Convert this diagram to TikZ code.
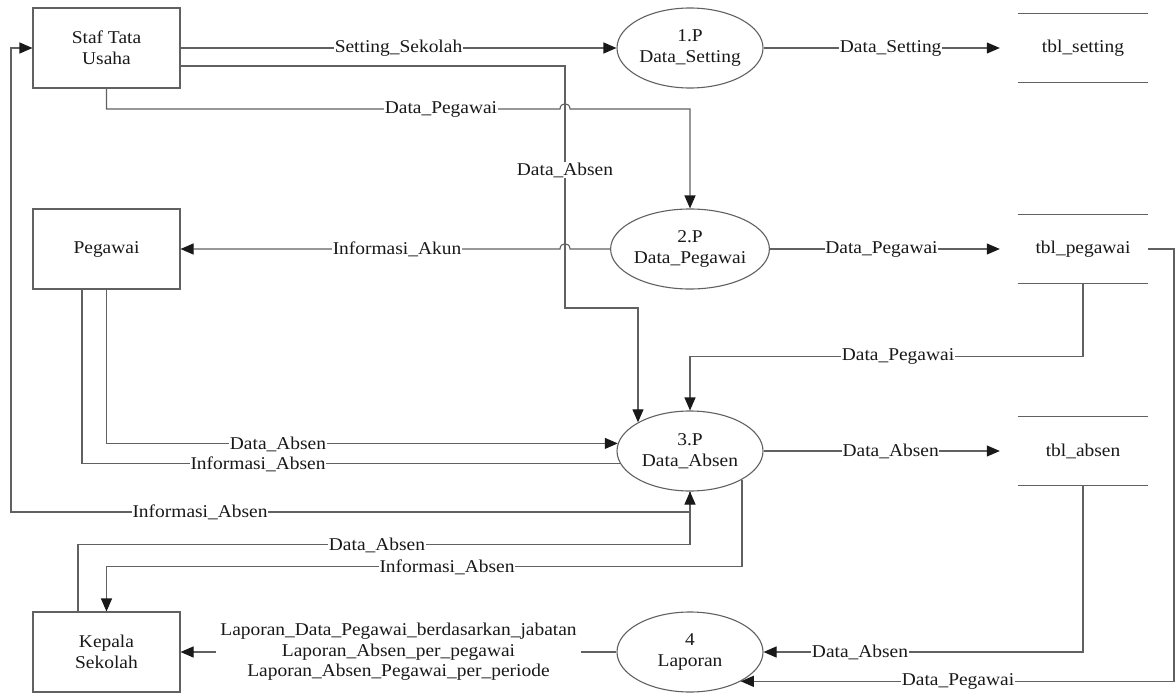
\documentclass[tikz,border=0pt]{standalone}
\usepackage{fontspec}
\setmainfont{Liberation Serif}[FakeStretch=1.08]
\usetikzlibrary{arrows.meta,shapes.geometric,calc}
\begin{document}
\begin{tikzpicture}[x=1pt,y=-1pt,
  every node/.style={font=\fontsize{18}{20.5}\selectfont, text=black!90},
  line/.style={draw=black!62, line width=1.1pt},
  flow/.style={line, -{Triangle[length=13pt,width=11pt,color=black!90]}},
  ent/.style={draw=black!62, line width=1.1pt, minimum width=147pt, minimum height=80pt, align=center, inner sep=0pt},
  proc/.style={ellipse, draw=black!62, line width=1.1pt, minimum width=146pt, minimum height=80pt, align=center, inner sep=0pt},
  dstore/.style={minimum width=130pt, minimum height=68pt, inner sep=0pt},
  lbl/.style={fill=white, inner sep=0.6pt, align=center},
]
\useasboundingbox[fill=white] (0,0) rectangle (1175,693);

% external entities
\node[ent] (staf) at (106.5,48) {Staf Tata\\Usaha};
\node[ent] (peg) at (106.5,249) {Pegawai};
\node[ent] (kep) at (106.5,652) {Kepala\\Sekolah};

% processes
\node[proc] (p1) at (690,48) {1.P\\Data\_Setting};
\node[proc] (p2) at (690,249) {2.P\\Data\_Pegawai};
\node[proc] (p3) at (690,451) {3.P\\Data\_Absen};
\node[proc] (p4) at (690,652) {4\\Laporan};

% data stores
\node[dstore] (tset) at (1083,48) {tbl\_setting};
\node[dstore] (tpeg) at (1083,249) {tbl\_pegawai};
\node[dstore] (tabs) at (1083,451) {tbl\_absen};
\foreach \s in {tset,tpeg,tabs}{
  \draw[line] (\s.north west) -- (\s.north east) (\s.south west) -- (\s.south east);
}

% flows from Staf Tata Usaha
\draw[flow] (staf.east) -- (p1.west) node[lbl,midway] (l1) {Setting\_Sekolah};
\draw[flow] ([yshift=-18pt]staf.east) -| (565,308) -| (p3.north west);
\draw[flow] (staf.south) |- (560,109) .. controls (560,102) and (570,102) .. (570,109) -| (p2.north);
\node[lbl] (l2) at (441,109) {Data\_Pegawai};
\node[lbl] (l3) at (565,170) {Data\_Absen};

% process 1
\draw[flow, shorten >=18pt] (p1.east) -- (tset.west) node[lbl,pos=0.5] (l4) {Data\_Setting};

% process 2
\draw[flow] (p2.west) -- (570,249) .. controls (570,242) and (560,242) .. (560,249) -- (peg.east);
\node[lbl] (l5) at (397,249) {Informasi\_Akun};
\draw[flow, shorten >=18pt] (p2.east) -- (tpeg.west) node[lbl,pos=0.45] (l6) {Data\_Pegawai};

% tbl_pegawai to processes 3 and 4
\draw[flow] (tpeg.south) -- ++(0,73) -| (p3.north);
\node[lbl] (l7) at (898,356) {Data\_Pegawai};
\draw[flow] (tpeg.east) -- (1174,249) |- (p4.-30);
\node[lbl] (l8) at (958,681) {Data\_Pegawai};

% Pegawai and process 3
\draw[flow] (peg.south) |- (p3.174);
\node[lbl] (l9) at (278,444) {Data\_Absen};
\draw[line] (p3.190) -| ([xshift=-24.5pt]peg.south);
\node[lbl] (l10) at (258,464) {Informasi\_Absen};

% process 3 back to Staf Tata Usaha
\draw[flow] (p3.south) |- (11,512) |- (staf.west);
\node[lbl] (l11) at (200,512) {Informasi\_Absen};

% Kepala Sekolah and process 3
\draw[flow] ([xshift=-28.5pt]kep.north) -- ++(0,-67) -| (p3.south);
\node[lbl] (l12) at (377,545) {Data\_Absen};
\draw[flow] (p3.south east) -- ++(0,87) -| (kep.north);
\node[lbl] (l13) at (447,567) {Informasi\_Absen};

% process 3 to tbl_absen, tbl_absen to process 4
\draw[flow, shorten >=18pt] (p3.east) -- (tabs.west) node[lbl,pos=0.5] (l14) {Data\_Absen};
\draw[flow] (tabs.south) |- (p4.east);
\node[lbl] (l15) at (860,652) {Data\_Absen};

% reports
\draw[flow] (p4.west) -- (kep.east) node[lbl,midway,inner sep=4pt] (l16)
  {Laporan\_Data\_Pegawai\_berdasarkan\_jabatan\\Laporan\_Absen\_per\_pegawai\\Laporan\_Absen\_Pegawai\_per\_periode};
\end{tikzpicture}
\end{document}
